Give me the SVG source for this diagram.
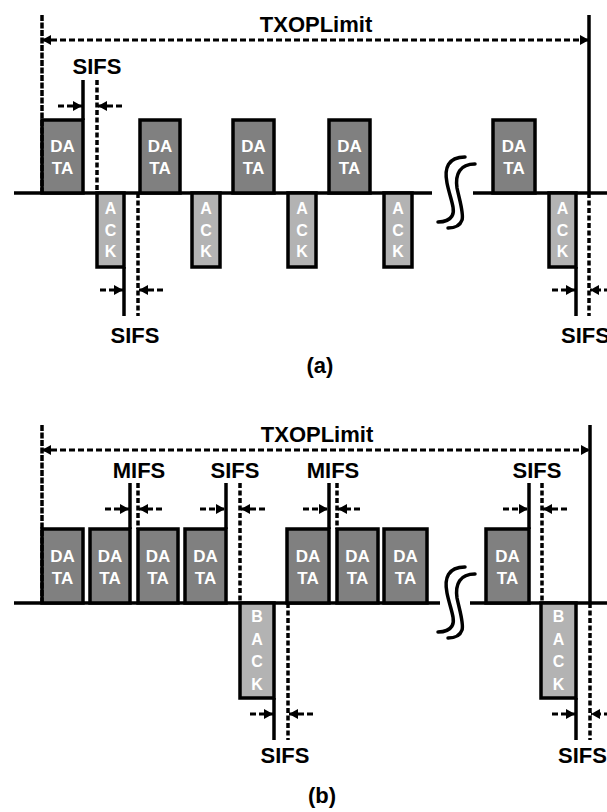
<svg xmlns="http://www.w3.org/2000/svg" width="607" height="812" viewBox="0 0 607 812">
<style>
text{font-family:"Liberation Sans",Arial,sans-serif;font-weight:bold}
.lab{font-size:22px;fill:#000;text-anchor:middle}
.cap{font-size:22px;fill:#000;text-anchor:middle}
.dt{font-size:17px;fill:#fff;text-anchor:middle}
.ak{font-size:16px;fill:#fff;text-anchor:middle}
.data{fill:#808080;stroke:#000;stroke-width:3.5}
.ack{fill:#b3b3b3;stroke:#000;stroke-width:3.5}
.base{stroke:#000;stroke-width:3.5;fill:none}
.solid{stroke:#000;stroke-width:3.5;fill:none}
.vd{stroke:#000;stroke-width:3.5;fill:none;stroke-dasharray:5 2.5}
.ed{stroke:#000;stroke-width:3.5;fill:none;stroke-dasharray:6 1.5}
.tx{stroke:#000;stroke-width:3;fill:none;stroke-dasharray:6 3;marker-start:url(#ah);marker-end:url(#ah)}
.sa{stroke:#000;stroke-width:3;fill:none;stroke-dasharray:6 3;marker-end:url(#ah)}
.brk{stroke:#000;stroke-width:3.5;fill:none;stroke-linecap:round}
</style>
<defs>
<marker id="ah" markerUnits="userSpaceOnUse" markerWidth="9" markerHeight="10" refX="9" refY="5" orient="auto-start-reverse">
<path d="M0,0 L9,5 L0,10 z" fill="#000"/>
</marker>
</defs>

<!-- ===== (a) ===== -->
<g id="a-axis">
<line class="base" x1="14" y1="193" x2="432" y2="193"/>
<line class="base" x1="473" y1="193" x2="607" y2="193"/>
<path class="brk" d="M465,157 C448,157 444,168 447,183 C450,198 456,210 452,216 C449,221 443,222 438,222"/>
<path class="brk" d="M475,164 C460,164 455,174 457,188 C460,202 464,214 462,220 C460,226 454,228 448,228"/>
</g>
<g id="a-data1"><rect class="data" x="42" y="120" width="41" height="73"/><text class="dt" x="62.5" y="152">DA</text><text class="dt" x="62.5" y="174">TA</text></g>
<g id="a-data2"><rect class="data" x="140" y="120" width="40" height="73"/><text class="dt" x="160" y="152">DA</text><text class="dt" x="160" y="174">TA</text></g>
<g id="a-data3"><rect class="data" x="233" y="120" width="41" height="73"/><text class="dt" x="253.5" y="152">DA</text><text class="dt" x="253.5" y="174">TA</text></g>
<g id="a-data4"><rect class="data" x="329" y="120" width="41" height="73"/><text class="dt" x="349.5" y="152">DA</text><text class="dt" x="349.5" y="174">TA</text></g>
<g id="a-data5"><rect class="data" x="493" y="120" width="42" height="73"/><text class="dt" x="514" y="152">DA</text><text class="dt" x="514" y="174">TA</text></g>
<g id="a-ack1"><rect class="ack" x="97" y="193" width="27" height="74"/><text class="ak" x="110.5" y="214">A</text><text class="ak" x="110.5" y="236">C</text><text class="ak" x="110.5" y="257">K</text></g>
<g id="a-ack2"><rect class="ack" x="192" y="193" width="28" height="74"/><text class="ak" x="206" y="214">A</text><text class="ak" x="206" y="236">C</text><text class="ak" x="206" y="257">K</text></g>
<g id="a-ack3"><rect class="ack" x="288" y="193" width="28" height="74"/><text class="ak" x="302" y="214">A</text><text class="ak" x="302" y="236">C</text><text class="ak" x="302" y="257">K</text></g>
<g id="a-ack4"><rect class="ack" x="384" y="193" width="28" height="74"/><text class="ak" x="398" y="214">A</text><text class="ak" x="398" y="236">C</text><text class="ak" x="398" y="257">K</text></g>
<g id="a-ack5"><rect class="ack" x="549" y="193" width="27" height="74"/><text class="ak" x="562.5" y="214">A</text><text class="ak" x="562.5" y="236">C</text><text class="ak" x="562.5" y="257">K</text></g>

<g id="a-connectors">
<line class="ed" x1="42" y1="15" x2="42" y2="193"/>
<line class="solid" x1="589" y1="15" x2="589" y2="193"/>
<line class="vd" x1="589" y1="193" x2="589" y2="316"/>
<line class="tx" x1="42" y1="40" x2="589" y2="40"/>
<line class="solid" x1="83" y1="80" x2="83" y2="120"/>
<line class="vd" x1="97" y1="80" x2="97" y2="193"/>
<line class="sa" x1="58" y1="106" x2="82" y2="106"/>
<line class="sa" x1="122" y1="106" x2="98" y2="106"/>
<line class="solid" x1="124" y1="267" x2="124" y2="316"/>
<line class="vd" x1="138" y1="193" x2="138" y2="316"/>
<line class="sa" x1="100" y1="290" x2="123" y2="290"/>
<line class="sa" x1="163" y1="290" x2="139" y2="290"/>
<line class="solid" x1="576" y1="267" x2="576" y2="316"/>
<line class="sa" x1="552" y1="290" x2="575" y2="290"/>
<line class="sa" x1="610" y1="290" x2="590" y2="290"/>
</g>
<g id="a-labels">
<text class="lab" x="316" y="32">TXOPLimit</text>
<text class="lab" x="97" y="74">SIFS</text>
<text class="lab" x="135" y="343">SIFS</text>
<text class="lab" x="561" y="343" style="text-anchor:start">SIFS</text>
<text class="cap" x="320" y="373">(a)</text>
</g>

<!-- ===== (b) ===== -->
<g id="b-axis">
<line class="base" x1="14" y1="603" x2="440" y2="603"/>
<line class="base" x1="470" y1="603" x2="607" y2="603"/>
<path class="brk" d="M465,567 C448,567 444,578 447,593 C450,608 456,620 452,626 C449,631 443,632 438,632"/>
<path class="brk" d="M475,574 C460,574 455,584 457,598 C460,612 464,624 462,630 C460,636 454,638 448,638"/>
</g>
<g id="b-data1"><rect class="data" x="42" y="529" width="41" height="74"/><text class="dt" x="62.5" y="562">DA</text><text class="dt" x="62.5" y="584">TA</text></g>
<g id="b-data2"><rect class="data" x="90" y="529" width="40" height="74"/><text class="dt" x="110" y="562">DA</text><text class="dt" x="110" y="584">TA</text></g>
<g id="b-data3"><rect class="data" x="138" y="529" width="40" height="74"/><text class="dt" x="158" y="562">DA</text><text class="dt" x="158" y="584">TA</text></g>
<g id="b-data4"><rect class="data" x="185" y="529" width="41" height="74"/><text class="dt" x="205.5" y="562">DA</text><text class="dt" x="205.5" y="584">TA</text></g>
<g id="b-data5"><rect class="data" x="287" y="529" width="42" height="74"/><text class="dt" x="308" y="562">DA</text><text class="dt" x="308" y="584">TA</text></g>
<g id="b-data6"><rect class="data" x="337" y="529" width="41" height="74"/><text class="dt" x="357.5" y="562">DA</text><text class="dt" x="357.5" y="584">TA</text></g>
<g id="b-data7"><rect class="data" x="384" y="529" width="43" height="74"/><text class="dt" x="405.5" y="562">DA</text><text class="dt" x="405.5" y="584">TA</text></g>
<g id="b-data8"><rect class="data" x="486" y="529" width="43" height="74"/><text class="dt" x="507.5" y="562">DA</text><text class="dt" x="507.5" y="584">TA</text></g>
<g id="b-back1"><rect class="ack" x="240" y="603" width="34" height="95"/><text class="ak" x="257" y="622">B</text><text class="ak" x="257" y="645">A</text><text class="ak" x="257" y="667">C</text><text class="ak" x="257" y="690">K</text></g>
<g id="b-back2"><rect class="ack" x="541" y="603" width="35" height="95"/><text class="ak" x="558.5" y="622">B</text><text class="ak" x="558.5" y="645">A</text><text class="ak" x="558.5" y="667">C</text><text class="ak" x="558.5" y="690">K</text></g>

<g id="b-connectors">
<line class="ed" x1="42" y1="425" x2="42" y2="603"/>
<line class="solid" x1="590" y1="425" x2="590" y2="603"/>
<line class="vd" x1="590" y1="603" x2="590" y2="740"/>
<line class="tx" x1="42" y1="450" x2="590" y2="450"/>
<line class="solid" x1="130" y1="483" x2="130" y2="529"/>
<line class="vd" x1="138" y1="483" x2="138" y2="529"/>
<line class="sa" x1="105" y1="509" x2="129" y2="509"/>
<line class="sa" x1="162" y1="509" x2="139" y2="509"/>
<line class="solid" x1="226" y1="483" x2="226" y2="529"/>
<line class="vd" x1="240" y1="483" x2="240" y2="603"/>
<line class="sa" x1="200" y1="509" x2="225" y2="509"/>
<line class="sa" x1="265" y1="509" x2="241" y2="509"/>
<line class="solid" x1="329" y1="483" x2="329" y2="529"/>
<line class="vd" x1="337" y1="483" x2="337" y2="529"/>
<line class="sa" x1="303" y1="509" x2="328" y2="509"/>
<line class="sa" x1="360" y1="509" x2="338" y2="509"/>
<line class="solid" x1="529" y1="483" x2="529" y2="529"/>
<line class="vd" x1="542" y1="483" x2="542" y2="603"/>
<line class="sa" x1="503" y1="509" x2="528" y2="509"/>
<line class="sa" x1="567" y1="509" x2="543" y2="509"/>
<line class="solid" x1="274" y1="698" x2="274" y2="740"/>
<line class="vd" x1="288" y1="603" x2="288" y2="740"/>
<line class="sa" x1="250" y1="714" x2="273" y2="714"/>
<line class="sa" x1="313" y1="714" x2="289" y2="714"/>
<line class="solid" x1="576" y1="698" x2="576" y2="740"/>
<line class="sa" x1="552" y1="714" x2="575" y2="714"/>
<line class="sa" x1="610" y1="714" x2="591" y2="714"/>
</g>
<g id="b-labels">
<text class="lab" x="317" y="442">TXOPLimit</text>
<text class="lab" x="139" y="478">MIFS</text>
<text class="lab" x="235" y="478">SIFS</text>
<text class="lab" x="333" y="478">MIFS</text>
<text class="lab" x="537" y="478">SIFS</text>
<text class="lab" x="285" y="763">SIFS</text>
<text class="lab" x="558" y="763" style="text-anchor:start">SIFS</text>
<text class="cap" x="322" y="803">(b)</text>
</g>
</svg>
